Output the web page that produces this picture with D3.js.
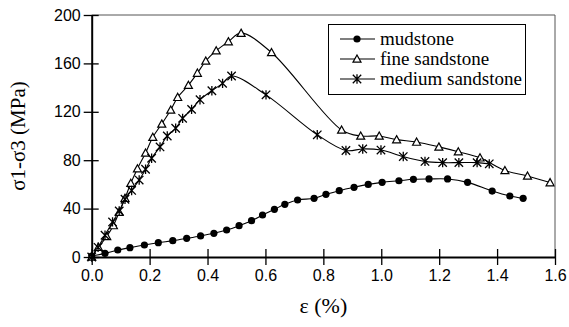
<!DOCTYPE html>
<html><head><meta charset="utf-8">
<script src="https://cdn.jsdelivr.net/npm/d3@7"></script>
</head><body style="margin:0">
<script>
const seriesNames = ["mudstone", "fine sandstone", "medium sandstone"];
const mudstone = [[0,0.8],[0.046,3],[0.09,5.8],[0.132,7.7],[0.182,9.9],[0.23,11.8],[0.28,13.5],[0.328,15.4],[0.376,17.4],[0.422,19.6],[0.466,22.3],[0.509,25.9],[0.552,30],[0.59,34.7],[0.631,39.4],[0.667,43.5],[0.711,47.1],[0.768,48.5],[0.809,51.8],[0.855,54.8],[0.906,57.6],[0.955,60],[1.003,61.7],[1.061,63],[1.111,64.2],[1.165,64.5],[1.229,64.5],[1.298,61.7],[1.383,54.5],[1.444,50.4],[1.49,48.5]];
const fineSandstone = [[0,0],[0.023,8],[0.052,17],[0.075,26],[0.095,37],[0.115,48.5],[0.135,61],[0.158,73],[0.186,86],[0.211,99],[0.242,110],[0.273,121.5],[0.297,132],[0.334,142],[0.365,152],[0.394,162],[0.43,170.5],[0.472,178],[0.516,185],[0.621,169],[0.863,105],[0.929,100],[0.993,100],[1.053,97],[1.122,95],[1.199,91],[1.266,87],[1.341,82],[1.427,71.5],[1.505,67],[1.583,61.5]];
const mediumSandstone = [[0,0],[0.022,8],[0.046,18],[0.072,29],[0.095,38],[0.115,47.7],[0.138,55],[0.164,63.6],[0.186,72.5],[0.207,81.6],[0.236,91],[0.261,100],[0.29,106.4],[0.314,114.6],[0.345,122],[0.374,130],[0.415,137.4],[0.452,143.5],[0.483,149.6],[0.602,134],[0.779,101],[0.878,88],[0.936,89.3],[0.999,88.4],[1.076,83],[1.151,79],[1.212,78],[1.268,78],[1.331,78],[1.373,77]];
const xTicks = [0,0.2,0.4,0.6,0.8,1.0,1.2,1.4,1.6];
const yTicks = [0,40,80,120,160,200];

const SERIF='"Liberation Serif", "Times New Roman", Tinos, "Nimbus Roman", serif';
const SANS='"Liberation Sans", Arial, sans-serif';
const W=569,H=327;
const L=91.7,R=555,T=15,B=257;
const svg=d3.select("body").append("svg").attr("width",W).attr("height",H)
  .attr("font-family",SERIF).style("font-family",SERIF);
const x=d3.scaleLinear().domain([0,1.6]).range([L,R]);
const y=d3.scaleLinear().domain([0,200]).range([B,T]);

const plot=svg.append("g");

// frame
svg.append("line").attr("x1",L).attr("x2",R).attr("y1",T).attr("y2",T).attr("stroke","#555").attr("stroke-width",1);
svg.append("line").attr("x1",R).attr("x2",R).attr("y1",T).attr("y2",B).attr("stroke","#555").attr("stroke-width",1);

// axes
const xa=svg.append("g").attr("transform",`translate(0,${B})`)
  .call(d3.axisBottom(x).tickValues(xTicks).tickFormat(d3.format(".1f")).tickSize(8).tickSizeOuter(0));
xa.attr("font-family",SANS).style("font-family",SANS);
xa.select(".domain").attr("stroke","#000").attr("stroke-width",2);
xa.selectAll(".tick line").attr("y1",-8).attr("y2",8).attr("stroke-width",1.3);
xa.selectAll(".tick text").attr("y",13).style("font-family",SANS).style("font-size","16px").attr("fill","#000");

const ya=svg.append("g").attr("transform",`translate(${L},0)`)
  .call(d3.axisLeft(y).tickValues(yTicks).tickSize(8).tickSizeOuter(0));
ya.attr("font-family",SANS).style("font-family",SANS);
ya.select(".domain").attr("stroke","#000").attr("stroke-width",2);
ya.selectAll(".tick line").attr("x1",-8).attr("x2",7).attr("stroke-width",1.3);
ya.selectAll(".tick text").attr("x",-11).style("font-family",SANS).style("font-size","16px").attr("fill","#000");

// axis titles
svg.append("text").attr("x",(L+R)/2).attr("y",313).attr("text-anchor","middle")
  .attr("font-family",SERIF).style("font-family",SERIF).style("font-size","22px").text("ε (%)");
svg.append("text").attr("transform",`translate(25,${(T+B)/2}) rotate(-90)`).attr("text-anchor","middle")
  .attr("font-family",SERIF).style("font-family",SERIF).style("font-size","21px").text("σ1-σ3 (MPa)");

const line=d3.line().x(d=>x(d[0])).y(d=>y(d[1])).curve(d3.curveCatmullRom.alpha(0.5));
const allSeries=[mudstone,fineSandstone,mediumSandstone];
allSeries.forEach(s=>{
  plot.append("path").attr("d",line(s)).attr("fill","none").attr("stroke","#000").attr("stroke-width",1.1);
});

function marker(g,type,cx,cy){
  if(type===0){
    g.append("circle").attr("cx",cx).attr("cy",cy).attr("r",3.6).attr("fill","#000");
  } else if(type===1){
    const s=4;
    g.append("path").attr("d",`M${cx},${cy-s}L${cx+s},${cy+s*0.8}L${cx-s},${cy+s*0.8}Z`).attr("fill","#fff").attr("stroke","#000").attr("stroke-width",1.2);
  } else {
    const s=4.2;
    g.append("path").attr("d",`M${cx-s},${cy-s}L${cx+s},${cy+s}M${cx-s},${cy+s}L${cx+s},${cy-s}M${cx},${cy-s-0.5}L${cx},${cy+s+0.5}`).attr("stroke","#000").attr("stroke-width",1.3).attr("fill","none");
  }
}
allSeries.forEach((s,i)=>{
  const g=plot.append("g");
  s.forEach(d=>marker(g,i,x(d[0]),y(d[1])));
});

// legend
const lg=svg.append("g");
lg.append("rect").attr("x",328.5).attr("y",24.5).attr("width",197).attr("height",70).attr("fill","#fff").attr("stroke","#000").attr("stroke-width",1);
seriesNames.forEach((n,i)=>{
  const cy=39+i*20;
  lg.append("line").attr("x1",340).attr("x2",375).attr("y1",cy).attr("y2",cy).attr("stroke","#000").attr("stroke-width",1.1);
  marker(lg,i,357,cy);
  lg.append("text").attr("x",380).attr("y",cy+6).attr("font-family",SERIF).style("font-family",SERIF).style("font-size","19px").text(n);
});
</script>
</body></html>
